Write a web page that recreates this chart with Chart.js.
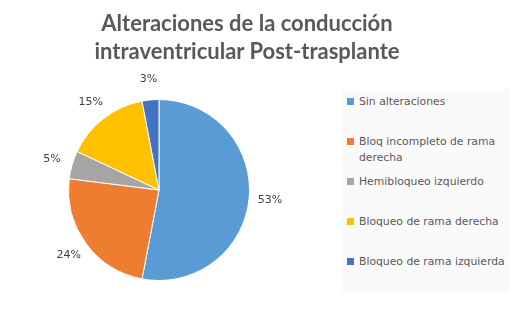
<!DOCTYPE html>
<html>
<head>
  <meta charset="utf-8">
  <title>Alteraciones de la conducción intraventricular</title>
  <style>
    body {
      margin: 0;
      background: #fff;
    }
    .wrap {
      position: relative;
      width: 519px;
      height: 313px;
      overflow: hidden;
    }
    canvas {
      position: absolute;
      left: 0;
      top: 0;
    }
    .title {
      position: absolute;
      left: 0;
      width: 494px;
      top: 9px;
      text-align: center;
      font-family: Lato, "Open Sans", sans-serif;
      font-weight: bold;
      font-size: 22px;
      line-height: 28px;
      color: #595959;
    }
    .legend {
      position: absolute;
      left: 342px;
      top: 89px;
      width: 168px;
      height: 204px;
      background: #fafafa;
    }
    .legend .item {
      position: absolute;
      left: 5px;
      width: 150px;
      font-family: "DejaVu Sans", Verdana, sans-serif;
      font-size: 10.8px;
      line-height: 16px;
      color: #595959;
      padding-left: 12px;
    }
    .legend .box {
      position: absolute;
      left: 0;
      top: 4px;
      width: 7px;
      height: 7px;
    }
  </style>
</head>
<body>
  <div class="wrap">
    <canvas id="pieChart" width="519" height="313"></canvas>
    <div class="title">Alteraciones de la conducción<br>intraventricular Post-trasplante</div>
    <div class="legend" id="legend"></div>
  </div>

  <script src="https://cdn.jsdelivr.net/npm/chart.js"></script>
  <script>
    const categories = [
      "Sin alteraciones",
      "Bloq incompleto de rama derecha",
      "Hemibloqueo izquierdo",
      "Bloqueo de rama derecha",
      "Bloqueo de rama izquierda"
    ];
    const values = [53, 24, 5, 15, 3];
    const colors = ["#5B9BD5", "#ED7D31", "#A5A5A5", "#FFC000", "#4472C4"];

    // legend on the right, one row every 40px
    const legend = document.getElementById("legend");
    categories.forEach((name, i) => {
      const item = document.createElement("div");
      item.className = "item";
      item.style.top = (5 + i * 40) + "px";
      const box = document.createElement("span");
      box.className = "box";
      box.style.background = colors[i];
      item.appendChild(box);
      item.appendChild(document.createTextNode(name));
      legend.appendChild(item);
    });

    // percentage labels just outside each slice
    const outsideLabels = {
      id: "outsideLabels",
      afterDatasetsDraw(chart) {
        const ctx = chart.ctx;
        const meta = chart.getDatasetMeta(0);
        const total = values.reduce((a, b) => a + b, 0);
        ctx.save();
        ctx.font = "11px 'DejaVu Sans', sans-serif";
        ctx.fillStyle = "#404040";
        ctx.textAlign = "center";
        ctx.textBaseline = "middle";
        meta.data.forEach((arc, i) => {
          const p = arc.getProps(["x", "y", "startAngle", "endAngle", "outerRadius"], true);
          const mid = (p.startAngle + p.endAngle) / 2;
          const r = p.outerRadius + 21;
          const pct = Math.round(values[i] / total * 100) + "%";
          ctx.fillText(pct, p.x + Math.cos(mid) * r, p.y + Math.sin(mid) * r);
        });
        ctx.restore();
      }
    };

    const ctx = document.getElementById("pieChart").getContext("2d");
    new Chart(ctx, {
      type: "pie",
      data: {
        labels: categories,
        datasets: [{
          data: values,
          backgroundColor: colors,
          borderColor: "#ffffff",
          borderWidth: 1
        }]
      },
      options: {
        responsive: false,
        animation: false,
        layout: {
          padding: { left: 68, right: 269, top: 99, bottom: 32 }
        },
        plugins: {
          legend: { display: false },
          tooltip: { enabled: false },
          title: { display: false }
        }
      },
      plugins: [outsideLabels]
    });
  </script>
</body>
</html>
